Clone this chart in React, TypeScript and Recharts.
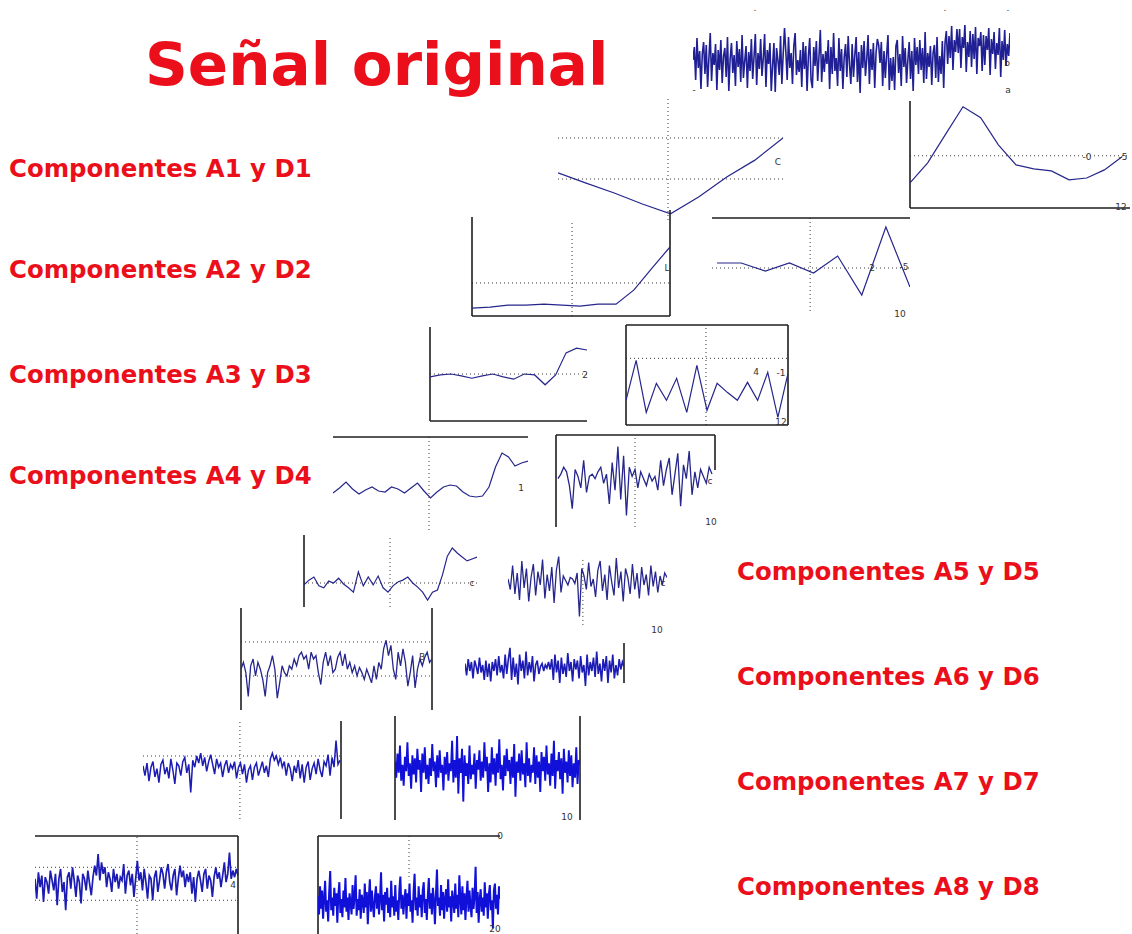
import React from "react";
import { LineChart, Line, XAxis, YAxis, ReferenceLine } from "recharts";

// ---------- data (arbitrary signal units) ----------
const ORIGINAL = [
  0.2, 1.5, -1.8, 2.4, -0.6, 1.1, -2.7, 0.8, 2.0, -1.2,
  1.7, -2.5, 0.4, 2.9, -1.9, 0.9, -0.3, 1.8, -2.8, 1.2,
  -0.8, 2.2, -2.1, 0.6, 1.4, -1.5, 2.5, -2.9, 0.3, 1.9,
  -1.1, 0.7, -2.4, 2.1, -0.5, 1.3, -2.0, 2.7, -1.6, 0.1,
  1.6, -2.6, 1.0, -0.9, 2.3, -1.7, 0.5, 2.8, -2.3, 0.9,
  -0.7, 2.3, -1.4, 0.4, 2.8, -2.5, 1.2, -0.2, 1.9, -2.9,
  -0.4, 1.9, -3.0, 1.4, 0.2, -1.3, 2.6, -2.2, 0.8, 3.4,
  1.0, -1.8, 2.5, -0.6, 0.9, -2.2, 1.6, 2.9, -1.3, 0.2,
  -1.0, 1.2, -2.5, 2.0, -0.7, 1.6, -2.9, 0.6, 2.4, -1.8,
  -2.6, 1.5, -0.4, 2.1, -1.9, 0.6, 3.2, -2.0, 0.8, -1.0,
  1.1, -0.2, 2.2, -2.7, 1.5, -1.2, 2.9, -0.9, 0.4, -2.4,
  2.4, -0.9, 1.3, -2.7, 0.5, 1.8, -1.5, 2.6, -0.3, -2.2,
  1.8, -1.5, 0.7, 2.5, -2.0, 1.0, -3.1, 1.7, -0.6, 2.1,
  -1.4, 0.3, 2.7, -2.2, 1.3, -0.8, 1.9, -2.6, 0.9, 2.3,
  1.7, -0.1, 2.0, -2.4, 1.1, -1.6, 0.7, 2.7, -2.8, 0.4,
  -1.9, 0.5, -2.8, 1.6, 2.2, -1.1, 0.8, -2.4, 2.6, -0.5,
  1.4, -2.1, 0.2, 2.0, -1.7, 1.1, -2.9, 2.4, -0.3, 1.5,
  -1.2, 2.2, -0.8, 1.4, -2.1, 3.0, -1.7, 0.9, -0.5, 1.6,
  -2.3, 0.9, 1.7, -1.6, 2.5, -2.0, 0.6, -1.2, 2.1, -2.6,
  1.9, 3.1, -0.2, 2.6, 0.4, 3.6, -0.8, 2.2, 1.0, 3.3,
  0.9, 3.3, -0.6, 2.5, 1.4, 3.7, -1.0, 2.0, 0.5, 3.1,
  -0.5, 2.8, 0.3, 3.5, -1.2, 2.4, 1.6, 3.0, -0.9, 2.7,
  -0.3, 2.6, 1.2, 3.4, -1.3, 2.3, 0.8, 3.0, -0.7, 1.9,
  0.7, 3.4, -1.5, 2.1, 0.2, 3.2, -0.4, 1.8, 0.6, 2.9,
];

const A1 = [0.15, -0.1, -0.34, -0.61, -0.85, -0.44, 0.05, 0.46, 1.0];
const D1 = [-1.04, -0.27, 0.81, 1.88, 1.46, 0.42, -0.35, -0.5, -0.58, -0.92, -0.85, -0.54, -0.04];
const A2 = [-0.76, -0.73, -0.67, -0.67, -0.64, -0.67, -0.7, -0.64, -0.64, -0.21, 0.45, 1.09];
const D2 = [0.2, 0.2, -0.12, 0.2, -0.2, 0.48, -1.08, 1.64, -0.76];
const A3 = [-0.06, -0.02, 0, -0.04, -0.09, -0.04, 0, -0.06, -0.11, 0, -0.02, -0.23, -0.02, 0.45, 0.55, 0.51];
const D3 = [-1.26, -0.06, -1.62, -0.75, -1.26, -0.6, -1.62, -0.21, -1.56, -0.75, -1.02, -1.26, -0.72, -1.26, -0.42, -1.77, -0.45];
const A4 = [
  -0.24, -0.04, 0.2, -0.08, -0.28, -0.12, 0, -0.16, -0.2, 0, -0.08, -0.24, -0.04, 0.16, -0.16, -0.44,
  -0.2, 0, 0.08, 0.04, -0.2, -0.36, -0.4, -0.36, 0, 0.8, 1.36, 1.2, 0.84, 0.96, 1.04,
];
const D4 = [
  0.1, 0.3, 0.6, 0.4, -0.2, -1.2, 0.5, 0.2, -0.3, 0.9, -0.5, 0.2, 0.3, 0.1, 0.4, 0.6, -0.1, 0.3, -1.0, 0.8,
  -0.4, 1.5, -0.8, 1.1, -1.5, 0.6, 0.2, 0.5, -0.3, 0.4, 0.1, -0.2, 0.3, 0.0, 0.2, -0.4, 0.9, -0.2, 0.5, 1.0,
  -0.6, 0.3, 1.2, -1.1, 0.7, 0.1, 1.3, -0.6, 0.4, -0.3, 0.5, 0.2, -0.1, 0.6, 0.3,
];
const A5 = [
  -0.08, 0.12, 0.25, -0.12, -0.2, 0.08, 0, 0.2, -0.04, -0.2, -0.38, 0.46, -0.12, 0.25, -0.08, 0.29, -0.2, -0.38,
  -0.12, 0.04, 0.12, 0.25, 0, -0.17, -0.38, -0.71, -0.38, -0.29, 0.33, 1.12, 1.46, 1.25, 1.08, 0.92, 1.0, 1.08,
];
const D5 = [
  0.2, -0.5, 1.1, -0.8, 0.6, -1.2, 1.4, -0.4, 0.9, -1.3,
  0.3, 1.2, -0.9, 0.7, -0.2, 1.5, -1.1, 0.5, -0.6, 1.0,
  -1.4, 0.8, 1.7, -0.7, 0.4, 0.1, -0.2, 0.3, 0.2, -0.1,
  0.6, -2.3, 0.9, 0.4, -0.5, 1.3, -0.3, 0.2, -1.0, 0.8,
  1.4, -0.6, 0.5, -1.2, 1.1, 0.0, -0.9, 1.6, -0.4, 0.7,
  -1.3, 0.9, 0.3, -0.8, 1.2, -0.5, 0.6, -1.1, 1.0, -0.2,
  0.5, -0.9, 1.1, -0.3, 0.7, -0.7, 0.4, -0.2, 0.6, 0.3,
];
const A6 = [
  0.2, 0.4, 0.1, -0.6, 0.3, 0.5, 0.0, 0.4, 0.2, -0.1,
  -0.6, 0.1, 0.3, 0.6, 0.2, -0.65, -0.2, 0.3, 0.1, 0.0,
  0.3, 0.2, 0.5, 0.3, 0.6, 0.7, 0.5, 0.6, 0.2, 0.7,
  0.5, 0.6, 0.1, -0.25, 0.4, 0.7, 0.3, 0.6, 0.1, 0.2,
  0.55, 0.7, 0.3, 0.65, 0.2, 0.4, 0.1, 0.3, 0.0, 0.25,
  0.1, -0.1, 0.2, 0.0, -0.2, 0.3, -0.1, 0.4, 0.2, 0.8,
  1.05, 0.6, 0.9, 0.2, -0.1, 0.7, 0.3, 0.8, 0.4, -0.3,
  0.1, 0.6, -0.35, 0.2, 0.5, 0.3, 0.55, 0.7, 0.4, 0.5,
];
const D6 = [
  0.3, -0.5, 0.6, -0.2, 0.4, -0.7, 0.5, 0.1, -0.4, 0.7,
  -0.3, 0.2, -0.8, 0.5, -0.6, 0.3, -0.9, 0.4, -0.2, 0.6,
  -0.5, 0.8, -0.3, 0.2, -0.7, 0.9, -0.4, 0.6, 1.35, -0.8,
  0.7, -0.6, 0.3, -1.1, 0.9, -0.2, 0.5, -0.7, 1.1, -0.5,
  0.4, -0.3, 0.8, -0.9, 0.2, 0.5, -0.4, 0.1, 0.3, -0.2,
  0.2, 0.0, 0.4, -0.1, 0.6, -0.8, 0.9, -0.3, 0.5, -1.0,
  0.7, -0.4, 0.3, -0.6, 1.0, -0.2, 0.4, -0.9, 0.6, -0.1,
  0.5, -0.7, 0.8, -0.3, 0.2, -1.2, 0.9, -0.5, 0.4, -0.2,
  0.7, -0.6, 1.1, -0.4, 0.3, -0.9, 0.6, -0.2, 0.8, -1.0,
  0.5, -0.3, 0.9, -0.7, 0.2, -0.5, 0.6, -0.1, 0.4, 0.1,
];
const A7 = [
  0.3, -0.4, 0.5, -0.8, 0.2, 0.6, -0.5, 0.1, -0.9, 0.4,
  0.7, -0.3, 0.2, -0.6, 0.8, 0.0, -1.0, 0.5, 0.3, -0.4,
  0.6, 0.9, -0.2, 0.4, -1.6, 0.7, 0.2, 1.0, 0.5, 1.2,
  0.3, 0.9, -0.1, 0.6, 1.1, 0.4, -0.3, 0.8, 0.2, 0.5,
  -0.5, 0.3, 0.7, -0.2, 0.4, 0.1, 0.6, -0.6, 0.2, 0.5,
  -0.3, 0.4, -0.9, 0.0, 0.3, -0.7, 0.2, 0.5, -0.4, 0.1,
  0.6, -0.2, 0.3, -0.5, 0.8, 1.2, 0.7, 1.0, 0.4, 0.9,
  0.2, 0.6, -0.4, 0.5, 0.1, -0.8, 0.3, -0.2, 0.7, -0.6,
  0.4, -0.9, 0.2, 0.6, -0.7, 0.1, 0.5, -0.3, 0.8, 0.0,
  -0.5, 0.6, 0.3, 1.1, -0.4, 0.9, 0.2, 2.1, 0.4, 0.7,
];
const D7 = [
  0.4, -0.6, 0.9, -0.3, 1.4, -0.8, 0.2, -1.1, 0.7, -0.2,
  1.6, -0.5, 0.3, -1.3, 0.8, -0.4, 0.6, -0.9, 1.2, -0.1,
  0.5, -1.5, 0.9, -0.3, 1.3, -0.7, 0.2, -1.0, 0.6, -0.5,
  1.5, -0.2, 0.4, -1.2, 0.8, -0.6, 1.1, -0.3, 0.2, -1.4,
  0.7, -0.4, 1.0, -0.8, 0.3, -0.2, 1.7, -0.9, 0.5, -0.6,
  2.0, -1.6, 0.6, -0.3, 1.2, -2.1, 0.8, -0.5, 0.3, -1.0,
  1.4, -0.7, 0.2, -0.4, 0.9, -1.3, 0.5, -0.1, 1.1, -0.8,
  0.4, -0.6, 1.6, -0.2, 0.7, -1.5, 0.3, -0.9, 1.3, -0.4,
  0.6, -1.1, 0.9, -0.3, 1.8, -0.7, 0.2, -1.4, 0.8, -0.5,
  1.2, -0.2, 0.5, -1.0, 0.7, -0.6, 1.5, -1.8, 0.4, -0.3,
  0.9, -0.8, 1.1, -0.4, 0.3, -1.2, 1.6, -0.5, 0.6, -0.9,
  0.2, -0.3, 1.3, -1.0, 0.8, -0.6, 0.4, -1.5, 1.0, -0.2,
  0.7, -0.8, 1.4, -0.4, 0.3, -1.1, 0.9, -0.5, 1.7, -1.3,
  0.5, -0.2, 1.0, -0.7, 0.6, -1.6, 1.2, -0.3, 0.4, -0.9,
  1.1, -0.5, 0.8, -1.2, 0.3, -0.6, 1.3, -1.0, 0.5, 0.2,
];
const A8 = [
  0.3, -0.9, 0.7, -0.2, 0.5, -1.1, 0.4, 0.1, -0.6, 0.8,
  0.2, -0.4, 0.6, -1.3, 0.3, 0.9, -0.5, 0.1, -1.6, 0.4,
  0.7, -0.3, 1.0, 0.2, -0.8, 0.5, 0.1, -1.2, 0.6, 0.3,
  -0.4, 0.8, 0.0, -0.7, 0.4, 1.1, 0.5, 1.8, 0.2, 1.3,
  0.6, 1.0, -0.2, 0.7, 0.3, -0.5, 0.9, 0.1, 0.6, -0.3,
  0.4, 0.2, 1.2, -0.6, 0.5, 0.8, -0.1, 0.6, -0.8, 0.3,
  1.4, 0.2, 0.7, -0.4, 0.9, 0.1, -0.9, 0.5, 0.3, -1.0,
  0.4, 0.8, -0.5, 0.2, 1.0, 0.6, -0.3, 0.7, 1.2, 0.1,
  -0.4, 0.5, 0.9, -0.7, 0.3, 1.1, 0.4, 0.8, -0.2, 0.6,
  0.1, 0.7, -0.6, 0.4, -1.1, 0.3, 0.8, 0.2, -0.5, 0.6,
  0.9, -0.3, 0.5, 0.2, -0.8, 0.4, 1.0, 0.3, 0.7, -0.2,
  0.5, 1.3, 0.1, 0.6, 1.9, 0.3, 0.8, 0.4, 0.9, 0.5,
];
const D8 = [
  0.5, -0.8, 1.2, -0.4, 0.9, -1.1, 0.3, 1.6, -0.6, 0.2,
  -1.3, 0.8, 2.3, -0.5, 0.4, -0.9, 1.1, -0.2, 0.7, -1.4,
  0.6, 1.5, -0.7, 0.3, -1.0, 0.9, -0.3, 1.8, -0.6, 0.4,
  -1.2, 0.7, 0.1, -0.8, 1.3, -0.4, 0.5, 2.0, -0.9, 0.3,
  -0.5, 1.0, -1.1, 0.6, 0.2, -0.7, 1.4, -0.3, 0.8, -1.5,
  0.4, 1.7, -0.6, 0.9, -0.2, -1.0, 0.5, 1.2, -0.4, 0.7,
  -0.8, 0.3, 2.2, -0.5, 0.6, -1.3, 0.8, -0.1, 1.1, -0.7,
  0.4, -1.0, 1.6, -0.3, 0.5, -0.9, 1.3, -0.6, 0.2, -1.2,
  0.9, 1.9, -0.4, 0.6, -0.8, 0.3, 1.0, -1.1, 0.7, -0.2,
  1.4, -0.6, 0.2, -1.4, 0.8, 2.1, -0.5, 0.4, -0.9, 1.2,
  -0.3, 0.6, -1.0, 0.9, 1.5, -0.7, 0.3, -1.2, 0.5, 1.8,
  -0.4, 0.7, -0.8, 1.1, 0.2, -1.5, 0.6, 2.4, -0.2, 0.4,
  -0.9, 1.3, -0.5, 0.8, -1.1, 0.3, 1.0, -0.6, 1.7, -0.3,
  0.5, -1.3, 0.9, 0.2, -0.7, 1.4, -0.4, 0.6, -1.0, 2.0,
  0.3, -0.8, 1.2, -0.5, 0.7, -1.2, 0.4, 1.6, -0.6, 0.9,
  -0.2, -1.0, 1.1, -0.4, 0.5, 2.6, -0.7, 0.8, -1.4, 0.3,
  1.0, -0.6, 0.4, -0.9, 1.5, -0.3, 0.7, -1.1, 0.6, 1.3,
  -0.5, 0.2, -1.8, 0.9, 1.4, -0.4, 0.6, -0.8, 1.2, 0.3,
];

const TITLE = "Señal original";
const COMPONENT_LABELS = ["A1 y D1", "A2 y D2", "A3 y D3", "A4 y D4", "A5 y D5", "A6 y D6", "A7 y D7", "A8 y D8"];

// ---------- layout ----------
type Seg = { x?: number; y?: number; x1?: number; x2?: number; y1?: number; y2?: number };
type Tick = { t: string; left: number; top: number };
interface Panel {
  id: string;
  values: number[];
  left: number;
  top: number;
  width: number;
  height: number;
  x: [number, number];
  y: [number, number];
  color: string;
  sw: number;
  solid: Seg[];
  dotted: Seg[];
  ticks: Tick[];
}

const NAVY = "#26268c";
const BLUE = "#1c1cb4";
const DENSE = "#1010d8";

const PANELS: Panel[] = [
  { id: "orig", values: ORIGINAL, left: 693, top: 15, width: 317, height: 90, x: [0, 239], y: [-4.3, 4.7], color: "#202094", sw: 1.6,
    solid: [], dotted: [], ticks: [{ t: "-", left: 694, top: 90 }, { t: "a", left: 1008, top: 90 }, { t: "b", left: 1007, top: 63 }, { t: ".", left: 755, top: 8 }, { t: ".", left: 945, top: 8 }, { t: ".", left: 1008, top: 8 }] },
  { id: "a1", values: A1, left: 558, top: 97, width: 225, height: 123, x: [0, 8], y: [-1, 2], color: NAVY, sw: 1.2,
    solid: [], dotted: [{ y: 1 }, { y: 0 }, { x: 3.91 }], ticks: [{ t: "C", left: 778, top: 162 }] },
  { id: "d1", values: D1, left: 910, top: 101, width: 220, height: 107, x: [0, 12.45], y: [-2, 2.1], color: NAVY, sw: 1.2,
    solid: [{ x: 0 }, { y: -2 }], dotted: [{ y: 0 }], ticks: [{ t: "-0", left: 1087, top: 157 }, { t: "-5", left: 1123, top: 157 }, { t: "12", left: 1121, top: 207 }] },
  { id: "a2", values: A2, left: 472, top: 210, width: 198, height: 106, x: [0, 11], y: [-1, 2.21], color: NAVY, sw: 1.2,
    solid: [{ x: 0, y1: -1, y2: 2 }, { y: -1 }, { x: 11 }], dotted: [{ y: 0 }, { x: 5.56, y1: -1, y2: 1.9 }], ticks: [{ t: "L", left: 667, top: 268 }] },
  { id: "d2", values: D2, left: 712, top: 218, width: 198, height: 100, x: [-0.21, 8], y: [-2, 2], color: NAVY, sw: 1.2,
    solid: [{ y: 2 }], dotted: [{ y: 0 }, { x: 3.86, y1: 2, y2: -1.8 }], ticks: [{ t: "2", left: 872, top: 268 }, { t: "-5", left: 904, top: 267 }, { t: "10", left: 900, top: 314 }] },
  { id: "a3", values: A3, left: 430, top: 327, width: 157, height: 94, x: [0, 15], y: [-1, 1], color: NAVY, sw: 1.2,
    solid: [{ x: 0 }, { y: -1 }], dotted: [{ y: 0 }], ticks: [{ t: "2", left: 585, top: 375 }] },
  { id: "d3", values: D3, left: 626, top: 325, width: 162, height: 100, x: [0, 16], y: [-2, 1], color: NAVY, sw: 1.2,
    solid: [{ x: 0 }, { x: 16 }, { y: -2 }, { y: 1 }], dotted: [{ y: 0 }, { x: 7.9 }],
    ticks: [{ t: "4", left: 756, top: 372 }, { t: "-1", left: 781, top: 373 }, { t: "12", left: 781, top: 422 }] },
  { id: "a4", values: A4, left: 333, top: 437, width: 195, height: 100, x: [0, 30], y: [-2, 2], color: NAVY, sw: 1.2,
    solid: [{ y: 2 }], dotted: [{ x: 14.77, y1: 2, y2: -1.72 }], ticks: [{ t: "1", left: 521, top: 488 }] },
  { id: "d4", values: D4, left: 556, top: 435, width: 159, height: 92, x: [-0.7, 55.05], y: [-2, 2], color: NAVY, sw: 1.3,
    solid: [{ x: -0.7 }, { y: 2 }, { x: 55.05, y1: 2, y2: 0.48 }], dotted: [{ x: 27 }],
    ticks: [{ t: "c", left: 710, top: 481 }, { t: "10", left: 711, top: 522 }] },
  { id: "a5", values: A5, left: 304, top: 535, width: 173, height: 72, x: [0, 35], y: [-1, 2], color: NAVY, sw: 1.2,
    solid: [{ x: 0 }], dotted: [{ y: 0 }, { x: 17.4 }], ticks: [{ t: "c", left: 472, top: 583 }] },
  { id: "d5", values: D5, left: 508, top: 552, width: 159, height: 75, x: [0, 69], y: [-3, 2], color: NAVY, sw: 1.3,
    solid: [], dotted: [{ x: 32.5, y1: 1.47, y2: -2.87 }], ticks: [{ t: "c", left: 663, top: 583 }, { t: "10", left: 657, top: 630 }] },
  { id: "a6", values: A6, left: 241, top: 608, width: 191, height: 102, x: [0, 79], y: [-1, 2], color: NAVY, sw: 1.3,
    solid: [{ x: 0 }, { x: 79 }], dotted: [{ y: 1 }, { y: 0 }], ticks: [{ t: "B", left: 422, top: 657 }] },
  { id: "d6", values: D6, left: 465, top: 638, width: 159, height: 60, x: [0, 99], y: [-2, 2], color: BLUE, sw: 1.6,
    solid: [{ x: 99, y1: 1.67, y2: -1.0 }], dotted: [], ticks: [] },
  { id: "a7", values: A7, left: 143, top: 721, width: 198, height: 98, x: [0, 99.5], y: [-3.5, 3.5], color: BLUE, sw: 1.5,
    solid: [{ x: 99.5 }], dotted: [{ y: 1 }, { x: 48.7 }], ticks: [] },
  { id: "d7", values: D7, left: 395, top: 716, width: 185, height: 104, x: [0, 149], y: [-3.25, 3.25], color: DENSE, sw: 1.9,
    solid: [{ x: 0 }, { x: 149 }], dotted: [], ticks: [{ t: "10", left: 567, top: 817 }] },
  { id: "a8", values: A8, left: 35, top: 836, width: 203, height: 98, x: [0, 119], y: [-3.05, 2.9], color: BLUE, sw: 1.7,
    solid: [{ y: 2.9 }, { x: 119 }], dotted: [{ y: 1 }, { y: -1 }, { x: 59.8 }], ticks: [{ t: "4", left: 233, top: 885 }] },
  { id: "d8", values: D8, left: 318, top: 836, width: 182, height: 98, x: [0, 179], y: [-2.2, 4.8], color: DENSE, sw: 2.0,
    solid: [{ x: 0 }, { y: 4.8 }], dotted: [{ x: 89.5, y1: 4.8, y2: 1.64 }], ticks: [{ t: "0", left: 500, top: 836 }, { t: "20", left: 495, top: 929 }] },
];

const LABEL_POS = [
  { left: 9, cy: 169 },
  { left: 9, cy: 270 },
  { left: 9, cy: 375 },
  { left: 9, cy: 476 },
  { left: 737, cy: 572 },
  { left: 737, cy: 677 },
  { left: 737, cy: 782 },
  { left: 737, cy: 887 },
];

const RED = "#ea0f1a";
const FONT = "'DejaVu Sans', Verdana, sans-serif";

function refLine(s: Seg, dotted: boolean, key: string) {
  const common: any = {
    stroke: dotted ? "#3a3a3a" : "#1e1e1e",
    strokeWidth: dotted ? 1 : 1.6,
    strokeDasharray: dotted ? "1 3" : undefined,
    ifOverflow: "visible",
  };
  if (s.x !== undefined && s.y1 !== undefined) {
    return <ReferenceLine key={key} segment={[{ x: s.x, y: s.y1 }, { x: s.x, y: s.y2 }]} {...common} />;
  }
  if (s.y !== undefined && s.x1 !== undefined) {
    return <ReferenceLine key={key} segment={[{ x: s.x1, y: s.y }, { x: s.x2, y: s.y }]} {...common} />;
  }
  if (s.x !== undefined) return <ReferenceLine key={key} x={s.x} {...common} />;
  return <ReferenceLine key={key} y={s.y} {...common} />;
}

function PanelChart({ p }: { p: Panel }) {
  const data = p.values.map((v, i) => ({ i, v }));
  return (
    <div style={{ position: "absolute", left: p.left, top: p.top, width: p.width, height: p.height }}>
      <LineChart width={p.width} height={p.height} data={data} margin={{ top: 0, right: 0, bottom: 0, left: 0 }}>
        <XAxis dataKey="i" type="number" domain={p.x} allowDataOverflow hide />
        <YAxis type="number" domain={p.y} allowDataOverflow hide />
        {p.dotted.map((s, k) => refLine(s, true, p.id + "d" + k))}
        {p.solid.map((s, k) => refLine(s, false, p.id + "s" + k))}
        <Line
          type="linear"
          dataKey="v"
          stroke={p.color}
          strokeWidth={p.sw}
          dot={false}
          activeDot={false}
          isAnimationActive={false}
        />
      </LineChart>
    </div>
  );
}

export default function App() {
  return (
    <div style={{ position: "absolute", left: 0, top: 0, width: 1132, height: 934, background: "#fff", overflow: "hidden", fontFamily: FONT }}>
      <style>{".recharts-surface{overflow:visible}"}</style>
      {PANELS.map((p) => (
        <PanelChart key={p.id} p={p} />
      ))}
      {PANELS.flatMap((p) =>
        p.ticks.map((t, k) => (
          <span
            key={p.id + "t" + k}
            style={{ position: "absolute", left: t.left, top: t.top, transform: "translate(-50%,-50%)", fontSize: 9, color: "#333", lineHeight: 1, whiteSpace: "nowrap" }}
          >
            {t.t}
          </span>
        ))
      )}
      <div style={{ position: "absolute", left: 145, top: 35, fontSize: 59.5, lineHeight: "59.5px", fontWeight: 700, color: RED, whiteSpace: "nowrap" }}>
        {TITLE}
      </div>
      {COMPONENT_LABELS.map((c, k) => (
        <div
          key={c}
          style={{ position: "absolute", left: LABEL_POS[k].left, top: LABEL_POS[k].cy - 11.7, fontSize: 24.4, lineHeight: "24.4px", fontWeight: 700, color: RED, whiteSpace: "nowrap" }}
        >
          {"Componentes " + c}
        </div>
      ))}
    </div>
  );
}
